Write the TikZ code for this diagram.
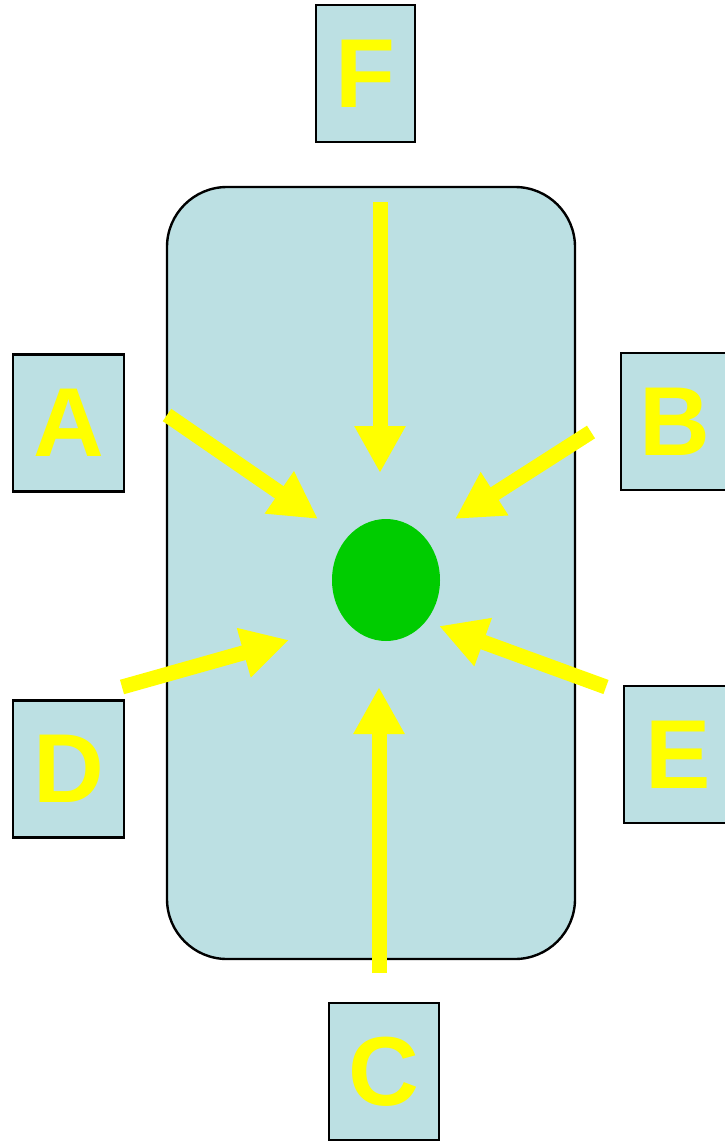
\documentclass[tikz,border=0pt]{standalone}
\usepackage{fontspec}
\setmainfont{Liberation Sans}
\usetikzlibrary{arrows.meta,shapes.geometric}
\definecolor{boxblue}{HTML}{BCE0E3}
\definecolor{dotgreen}{HTML}{00CC00}
\definecolor{arrowyellow}{HTML}{FFFF00}
\tikzset{
  letterbox/.style={draw=black, line width=2.6pt, fill=boxblue, minimum width=#1, minimum height=137pt, inner sep=0pt,
    text=arrowyellow, font=\fontsize{98}{98}\selectfont\bfseries},
  letterbox/.default=110pt,
  bigarrow/.style={draw=arrowyellow, line width=15pt, -{Triangle[width=48pt,length=47pt]}, fill=arrowyellow},
}
\begin{document}
\begin{tikzpicture}[x=1pt,y=-1pt]
\useasboundingbox (0,0) rectangle (724,1143);
% main cell
\node[draw=black, line width=2.4pt, fill=boxblue, rounded corners=60pt, minimum width=408pt, minimum height=772pt] (cell) at (371,573) {};
\node[fill=dotgreen, ellipse, minimum width=108pt, minimum height=122pt, inner sep=0pt, draw=none] (nuc) at (386,580) {};
% boxes
\node[letterbox=99pt] (F) at (365.5,73.5) {F};
\node[letterbox=111pt] (A) at (68.5,423) {A};
\node[letterbox=108pt] (B) at (675,421.5) {B};
\node[letterbox=111pt] (D) at (68.5,769) {D};
\node[letterbox=108pt] (E) at (678,754.5) {E};
\node[letterbox=110pt] (C) at (384,1071.5) {C};
% arrow ends
\coordinate (Ft) at (380,202); \coordinate (Fh) at (380,473);
\coordinate (At) at (167,415); \coordinate (Ah) at (318,519);
\coordinate (Bt) at (591,432); \coordinate (Bh) at (455,519);
\coordinate (Dt) at (122,687); \coordinate (Dh) at (289,640);
\coordinate (Et) at (606,687); \coordinate (Eh) at (439,626);
\coordinate (Ct) at (379,973); \coordinate (Ch) at (379,687);
\draw[bigarrow] (Ft) -- (Fh);
\draw[bigarrow] (At) -- (Ah);
\draw[bigarrow] (Bt) -- (Bh);
\draw[bigarrow] (Dt) -- (Dh);
\draw[bigarrow] (Et) -- (Eh);
\draw[bigarrow] (Ct) -- (Ch);
\end{tikzpicture}
\end{document}
